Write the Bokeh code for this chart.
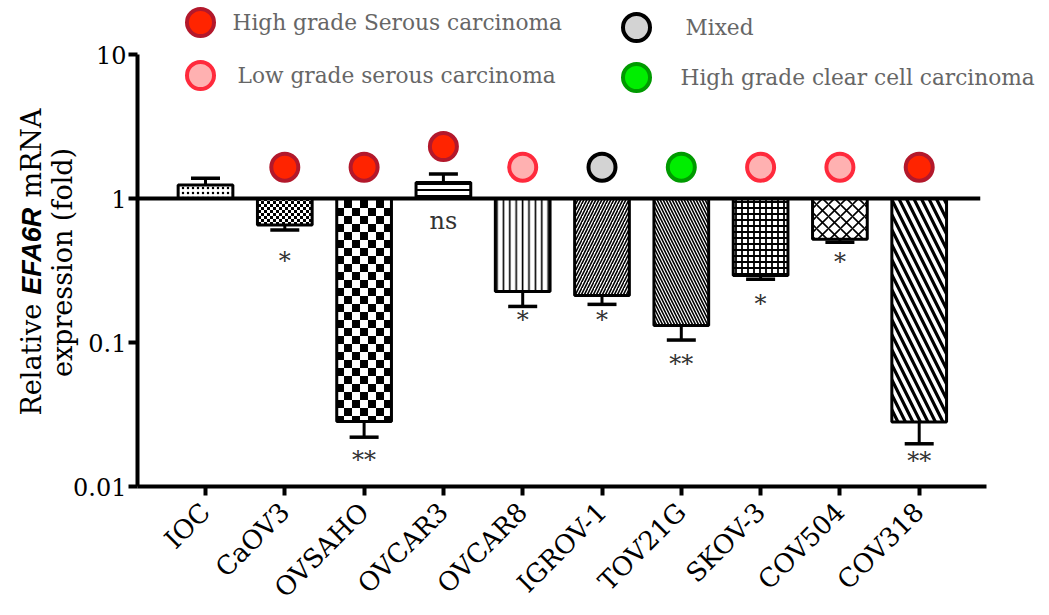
import math
import base64
from bokeh.plotting import figure
from bokeh.models import (Range1d, FixedTicker, ImageURLTexture, ColumnDataSource)
from bokeh.core.properties import value
from bokeh.embed import file_html
from bokeh.resources import INLINE

# ---------------- data ----------------
categories = ["IOC", "CaOV3", "OVSAHO", "OVCAR3", "OVCAR8",
              "IGROV-1", "TOV21G", "SKOV-3", "COV504", "COV318"]
expression = [1.24, 0.655, 0.0283, 1.29, 0.226, 0.212, 0.131, 0.292, 0.521, 0.0280]
sem = [0.14, 0.05, 0.0063, 0.19, 0.048, 0.028, 0.027, 0.017, 0.024, 0.0082]
significance = ["", "*", "**", "ns", "*", "*", "**", "*", "*", "**"]
subtype = [None, "HGSC", "HGSC", "HGSC", "LGSC", "Mixed", "HGCC", "LGSC", "LGSC", "HGSC"]
y_ticks = [0.01, 0.1, 1, 10]
y_tick_labels = ["0.01", "0.1", "1", "10"]
legend_keys = ["HGSC", "LGSC", "Mixed", "HGCC"]
legend_labels = ["High grade Serous carcinoma", "Low grade serous carcinoma",
                 "Mixed", "High grade clear cell carcinoma"]
title_parts = ["Relative", "EFA6R", "mRNA"]
title_line2 = "expression (fold)"

# ---------------- styles ----------------
subtype_fill = {"HGSC": "#ff2400", "LGSC": "#ffb1b1", "Mixed": "#d3d3d3", "HGCC": "#00ee00"}
subtype_line = {"HGSC": "#b3182b", "LGSC": "#ff2a3c", "Mixed": "#000000", "HGCC": "#009a00"}
bar_pattern = ["dot", "checker_small", "checker_big", "horizontal_line", "vertical_line",
               "right_diagonal_line", "left_diagonal_line", "cross", "diagonal_cross",
               "left_diagonal_line"]
bar_hatch_scale = [5, 6, 16, 6, 6.4, 6, 6, 6, 12, 15]
bar_hatch_weight = [2, 1, 1, 2, 1.6, 1.6, 1.6, 1.8, 1.6, 3.2]
sig_offset = [0, 31, 23, 22, 14, 16, 24, 25, 20, 17]

SERIF = "DejaVu Serif"
FS = "24px"

# layout in page pixels: y axis at x=137, first category at x=205 (79.3 px per category),
# x axis at y=486 (144 px per decade); the frame spans the whole canvas so that the
# axis titles and tick labels sit inside it.
PX_CAT = 79.3
PX_DEC = 144.0
W, H = 1049, 615
AXIS_PX = 137
CAT0_PX = 205
AXIS_PY = 486


def px_to_x(px):
    return (px - CAT0_PX) / PX_CAT


def py_to_y(py):
    return 10 ** ((AXIS_PY - py) / PX_DEC - 2)


x_start = px_to_x(0)
x_end = px_to_x(W)
x_axis0 = px_to_x(AXIS_PX)
y_start = py_to_y(H)
y_end = py_to_y(0)

p = figure(width=W, height=H, output_backend="svg", toolbar_location=None,
           x_range=Range1d(x_start, x_end), y_range=Range1d(y_start, y_end),
           y_axis_type="log", min_border_left=0, min_border_right=0,
           min_border_top=0, min_border_bottom=0)
p.outline_line_color = None
p.xgrid.visible = False
p.ygrid.visible = False
p.background_fill_color = "white"
p.border_fill_color = "white"

n = len(categories)
xs = list(range(n))
caps = [v + e if v > 1 else v - e for v, e in zip(expression, sem)]


def checker(s):
    svg = (f'<svg xmlns="http://www.w3.org/2000/svg" width="{2*s}" height="{2*s}">'
           f'<rect width="{2*s}" height="{2*s}" fill="white"/>'
           f'<rect width="{s}" height="{s}" fill="black"/>'
           f'<rect x="{s}" y="{s}" width="{s}" height="{s}" fill="black"/></svg>')
    return ImageURLTexture(url="data:image/svg+xml;base64," + base64.b64encode(svg.encode()).decode())


bars = ColumnDataSource(dict(x=xs, top=expression, bottom=[1] * n, cap=caps,
                             pattern=bar_pattern, hs=bar_hatch_scale, hw=bar_hatch_weight))
p.vbar(x="x", top="top", bottom="bottom", width=0.69, source=bars,
       fill_color="white", line_color="black", line_width=3,
       hatch_pattern="pattern", hatch_scale="hs", hatch_weight="hw",
       hatch_color="black", hatch_extra={"checker_small": checker(3), "checker_big": checker(8)})

# error bars
p.segment(x0="x", y0="top", x1="x", y1="cap", source=bars, line_color="black", line_width=3)
p.scatter(x="x", y="cap", source=bars, marker="dash", size=29, line_color="black", line_width=3.5)

# baseline at 1
p.line(x=[x_axis0, n - 0.23], y=[1, 1], line_color="black", line_width=4)

# significance labels
sig_src = ColumnDataSource(dict(
    x=[x for x, s in zip(xs, significance) if s],
    y=[1 if s == "ns" else c for c, s in zip(caps, significance) if s],
    t=[s for s in significance if s],
    off=[o for o, s in zip(sig_offset, significance) if s]))
p.text(x="x", y="y", text="t", y_offset="off", source=sig_src, text_font=value(SERIF),
       text_font_size=FS, text_align="center", text_baseline="middle", text_color="#333333")

# subtype markers above bars
mk_x, mk_y, mk_f, mk_l = [], [], [], []
for x, c, s in zip(xs, caps, subtype):
    if s is None:
        continue
    mk_x.append(x)
    mk_y.append(max(1.65, c * 1.55))
    mk_f.append(subtype_fill[s])
    mk_l.append(subtype_line[s])
p.scatter(x=mk_x, y=mk_y, size=27, fill_color=mk_f, line_color=mk_l, line_width=4)

# legend (manual, two columns)
leg_x = [px_to_x(200), px_to_x(200), px_to_x(636), px_to_x(636)]
leg_y = [py_to_y(22), py_to_y(75), py_to_y(27), py_to_y(77)]
leg_off = [32, 37, 49, 44]
p.scatter(x=leg_x, y=leg_y, size=27, fill_color=[subtype_fill[k] for k in legend_keys],
          line_color=[subtype_line[k] for k in legend_keys], line_width=4)
p.text(x=leg_x, y=leg_y, text=legend_labels, x_offset=leg_off, text_font=value(SERIF),
       text_font_size="21.7px", text_baseline="middle", text_align="left", text_color="#666666")

# axes (pinned inside the frame)
for ax in (p.xaxis[0], p.yaxis[0]):
    ax.axis_line_width = 4
    ax.major_tick_line_width = 4
    ax.major_tick_out = 9
    ax.major_tick_in = 0
    ax.minor_tick_line_color = None
    ax.major_label_text_font = SERIF
    ax.major_label_text_font_size = FS
    ax.major_label_text_color = "black"

p.xaxis.ticker = FixedTicker(ticks=xs)
p.xaxis.major_label_overrides = {i: c for i, c in zip(xs, categories)}
p.xaxis.major_label_orientation = math.pi / 4
p.xaxis.major_label_text_font_size = "26px"
p.xaxis.major_label_standoff = 12
p.xaxis.bounds = (x_axis0, n - 0.15)
p.xaxis.fixed_location = 0.01

p.yaxis.ticker = FixedTicker(ticks=y_ticks, minor_ticks=[])
p.yaxis.major_label_overrides = {t: l for t, l in zip(y_ticks, y_tick_labels)}
p.yaxis.bounds = (0.01, 10)
p.yaxis.major_label_standoff = 2
p.yaxis.fixed_location = x_axis0

# ---------------- y-axis title (two lines, gene name bold italic) ----------------
F = 27
w_rel = 4.157 * F
w_sp = 0.318 * F
w_efa = 3.278 * F
start_py = 415
part_py = [start_py, start_py - w_rel - w_sp, start_py - w_rel - w_efa - 2 * w_sp]
p.text(x=[px_to_x(31)] * 3, y=[py_to_y(v) for v in part_py], text=title_parts,
       angle=math.pi / 2, text_font=[SERIF, "Liberation Sans", SERIF],
       text_font_style=["normal", "bold italic", "normal"], text_font_size=f"{F}px",
       text_baseline="middle", text_align="left", text_color="black")
p.text(x=[px_to_x(62)], y=[py_to_y(262)], text=[title_line2], angle=math.pi / 2,
       text_font=value(SERIF), text_font_size=f"{F}px",
       text_baseline="middle", text_align="center", text_color="black")

open("out.html", "w").write(file_html(p, INLINE))
